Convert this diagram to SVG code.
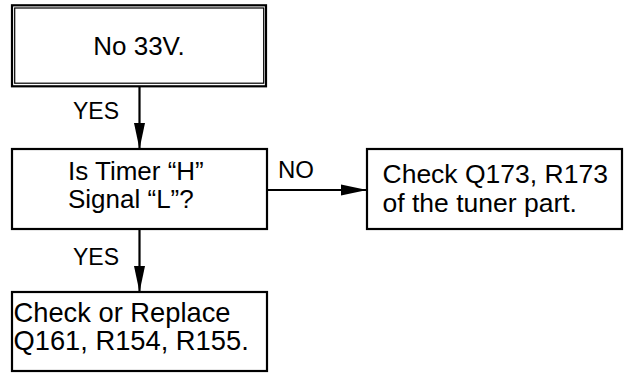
<svg xmlns="http://www.w3.org/2000/svg" width="626" height="373" viewBox="0 0 626 373">
<style>
.box{fill:#fff;stroke:#000;stroke-width:2.2}
.t{font-family:"Liberation Sans",Arial,sans-serif;font-size:26px;fill:#000}
.l{font-family:"Liberation Sans",Arial,sans-serif;font-size:23px;fill:#000}
.c{stroke:#000;stroke-width:2.2;fill:none}
</style>
<defs>
<marker id="ah" markerWidth="26" markerHeight="12" refX="26" refY="6" orient="auto" markerUnits="userSpaceOnUse">
<path d="M0,0.5 L26,6 L0,11.5 Z" fill="#000"/>
</marker>
</defs>
<rect width="626" height="373" fill="#fff"/>
<g id="connectors">
<line class="c" x1="139.5" y1="86" x2="139.5" y2="149" marker-end="url(#ah)"/>
<line class="c" x1="139.5" y1="229" x2="139.5" y2="292" marker-end="url(#ah)"/>
<line class="c" x1="267" y1="190" x2="367" y2="190" marker-end="url(#ah)"/>
<text class="l" x="73" y="119">YES</text>
<text class="l" x="73" y="265">YES</text>
<text class="l" x="278" y="178" style="font-size:24px">NO</text>
</g>
<g id="n1">
<rect class="box" x="12" y="5.3" width="254" height="81"/>
<rect x="14.7" y="8" width="249" height="75.2" fill="none" stroke="#000" stroke-width="1.2"/>
<text class="t" x="139" y="55" text-anchor="middle">No 33V.</text>
</g>
<g id="n2">
<rect class="box" x="12" y="149" width="255" height="80"/>
<text class="t" x="68" y="180">Is Timer “H”</text>
<text class="t" x="68" y="208">Signal “L”?</text>
</g>
<g id="n3">
<rect class="box" x="367" y="149" width="255" height="80"/>
<text class="t" x="382.5" y="183" style="font-size:26.5px">Check Q173, R173</text>
<text class="t" x="382.5" y="211.5" style="font-size:26.5px">of the tuner part.</text>
</g>
<g id="n4">
<rect class="box" x="12" y="292" width="255" height="79"/>
<text class="t" x="13.5" y="322" style="font-size:27.3px">Check or Replace</text>
<text class="t" x="13.5" y="350" style="font-size:27.3px">Q161, R154, R155.</text>
</g>
</svg>
